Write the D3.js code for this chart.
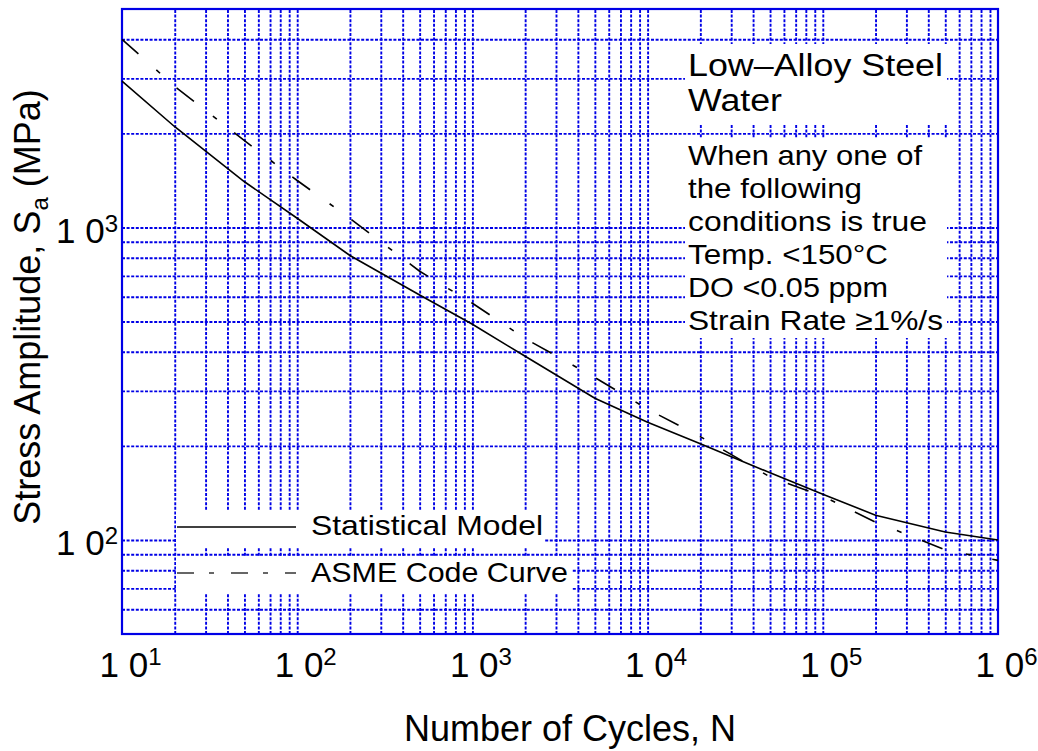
<!DOCTYPE html>
<html><head><meta charset="utf-8">
<script src="https://cdn.jsdelivr.net/npm/d3@7"></script>
<style>
body{margin:0;background:#fff}
svg{display:block}
text{font-family:"Liberation Sans",Arial,Helvetica,sans-serif;fill:#000}
</style>
</head><body>
<svg id="c" width="1038" height="751"></svg>
<script>
// ---- data ----
const cyclesASME = [10,20,50,100,200,500,1000,2000,5000,10000,20000,50000,100000,200000,500000,1000000];
const stressASME = [3999,2827,1896,1413,1069,724,572,441,331,262,214,159,138,114,93,86];
const cyclesModel = [10,20,50,100,200,500,1000,2000,5000,10000,20000,50000,100000,200000,500000,1000000];
const stressModel = [2940,2100,1400,1070,813,608,490,387,284,238,203,164,140,120,106,100];
const xDecades = [10,100,1000,10000,100000,1000000];
const xExponents = ["1","2","3","4","5","6"];
const yDecades = [100,1000];
const yExponents = ["2","3"];
const seriesNames = ["Statistical Model","ASME Code Curve"];
const noteTitle = ["Low\u2013Alloy Steel","Water"];
const noteLines = ["When any one of","the following","conditions is true","Temp. <150\u00B0C","DO <0.05 ppm","Strain Rate \u22651%/s"];

// ---- layout ----
const m = {l:122, r:998, t:9, b:634};
const svg = d3.select("#c");
const x = d3.scaleLog().domain([10,1e6]).range([m.l,m.r]);
const y = d3.scaleLog().domain([50,5000]).range([m.b,m.t]);
const gridColor = "#0000e6";

// grid
const gx = svg.append("g").attr("transform",`translate(0,${m.b})`)
  .call(d3.axisBottom(x).tickValues(x.ticks().filter(v=>v>10.5&&v<999000)).tickSize(-(m.b-m.t)).tickFormat(""));
gx.select(".domain").remove();
gx.selectAll("line").attr("stroke",gridColor).attr("stroke-width",1.9).attr("stroke-dasharray","3,1.6");
const gy = svg.append("g").attr("transform",`translate(${m.l},0)`)
  .call(d3.axisLeft(y).tickValues(y.ticks().filter(v=>v>50.5&&v<4990)).tickSize(-(m.r-m.l)).tickFormat(""));
gy.select(".domain").remove();
gy.selectAll("line").attr("stroke",gridColor).attr("stroke-width",1.9).attr("stroke-dasharray","3,1.6");

// frame
svg.append("rect").attr("x",m.l).attr("y",m.t).attr("width",m.r-m.l).attr("height",m.b-m.t)
  .attr("fill","none").attr("stroke",gridColor).attr("stroke-width",2.2);

// curves
const line = d3.line().x(d=>x(d[0])).y(d=>y(d[1]));
svg.append("path").datum(d3.zip(cyclesModel,stressModel)).attr("d",line)
  .attr("fill","none").attr("stroke","#000").attr("stroke-width",1.6);
svg.append("path").datum(d3.zip(cyclesASME,stressASME)).attr("d",line)
  .attr("fill","none").attr("stroke","#000").attr("stroke-width",1.6).attr("stroke-dasharray","22,24,5,22");

// x tick labels
const xl = svg.append("g").attr("transform",`translate(0,${m.b})`)
  .call(d3.axisBottom(x).tickValues(xDecades).tickSize(0).tickFormat(""));
xl.select(".domain").remove();
xl.selectAll(".tick").each(function(d,i){
  const t = d3.select(this).append("text").attr("x",-23).attr("y",43).attr("text-anchor","start").attr("font-size",35);
  t.append("tspan").text("1 0");
  t.append("tspan").attr("dy",-12).attr("font-size",24).text(xExponents[i]);
});
// y tick labels
const yl = svg.append("g").attr("transform",`translate(${m.l},0)`)
  .call(d3.axisLeft(y).tickValues(yDecades).tickSize(0).tickFormat(""));
yl.select(".domain").remove();
yl.selectAll(".tick").each(function(d,i){
  const t = d3.select(this).append("text").attr("x",-4).attr("y",15).attr("text-anchor","end").attr("font-size",35);
  t.append("tspan").text("1 0");
  t.append("tspan").attr("dy",-11).attr("font-size",24).text(yExponents[i]);
});

// axis titles
svg.append("text").attr("x",570).attr("y",741).attr("text-anchor","middle").attr("font-size",36).text("Number of Cycles, N");
const yt = svg.append("text").attr("transform","translate(40,307) rotate(-90)").attr("text-anchor","middle").attr("font-size",36);
yt.append("tspan").text("Stress Amplitude, S");
yt.append("tspan").attr("dy",8).attr("font-size",24).text("a");
yt.append("tspan").attr("dy",-8).text(" (MPa)");

// note boxes
svg.append("rect").attr("x",685).attr("y",44).attr("width",262).attr("height",80).attr("fill","#fff");
svg.append("rect").attr("x",685).attr("y",138).attr("width",262).attr("height",200).attr("fill","#fff");
const titleLens = [255,94];
noteTitle.forEach((s,i)=>{
  svg.append("text").attr("font-size",31).attr("x",688).attr("y",76+i*35)
    .attr("textLength",titleLens[i]).attr("lengthAdjust","spacingAndGlyphs").text(s);
});
const noteLens = [234,174,239,200,200,255];
noteLines.forEach((s,i)=>{
  svg.append("text").attr("font-size",28).attr("x",688).attr("y",165+i*33)
    .attr("textLength",noteLens[i]).attr("lengthAdjust","spacingAndGlyphs").text(s);
});

// legend
svg.append("rect").attr("x",176).attr("y",510).attr("width",369).attr("height",37).attr("fill","#fff");
svg.append("rect").attr("x",176).attr("y",557).attr("width",396).attr("height",36).attr("fill","#fff");
svg.append("line").attr("x1",177).attr("x2",296).attr("y1",527).attr("y2",527).attr("stroke","#000").attr("stroke-width",1.6);
svg.append("line").attr("x1",177).attr("x2",296).attr("y1",573).attr("y2",573).attr("stroke","#666").attr("stroke-width",2).attr("stroke-dasharray","17,15,5,17");
const legLens = [232,257];
seriesNames.forEach((s,i)=>{
  svg.append("text").attr("x",311).attr("y",535+i*47).attr("font-size",28)
    .attr("textLength",legLens[i]).attr("lengthAdjust","spacingAndGlyphs").attr("xml:space","preserve").text(s);
});
</script>
</body></html>
